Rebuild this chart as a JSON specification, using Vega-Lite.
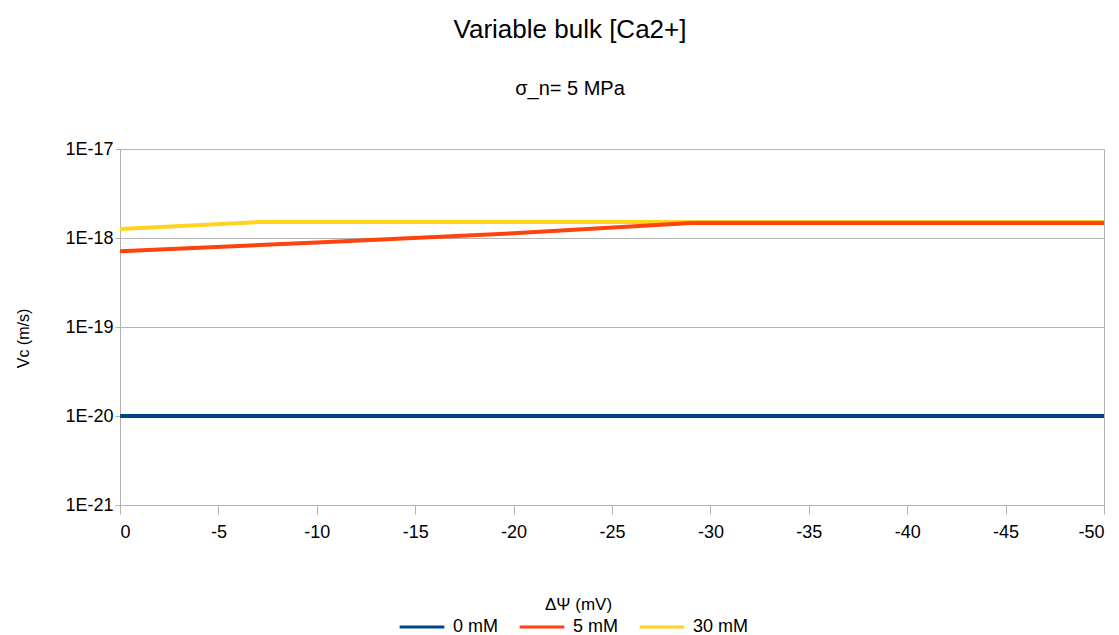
{
  "$schema": "https://vega.github.io/schema/vega-lite/v6.json",
  "autosize": "none",
  "padding": {"left": 120, "top": 149, "right": 15, "bottom": 130},
  "width": 984,
  "height": 356,
  "background": "white",
  "config": {
    "font": "Liberation Sans",
    "view": {"stroke": "#b3b3b3", "strokeWidth": 1}
  },
  "title": {
    "text": "Variable  bulk [Ca2+]",
    "subtitle": "σ_n= 5 MPa",
    "fontSize": 26,
    "fontWeight": "normal",
    "color": "#000000",
    "subtitleFontSize": 20,
    "subtitleColor": "#000000",
    "subtitlePadding": 36,
    "offset": 41,
    "anchor": "middle",
    "dx": -42
  },
  "data": {
    "values": [
      {"series": "0 mM", "dpsi": 0, "vc": 1e-20},
      {"series": "0 mM", "dpsi": -50, "vc": 1e-20},
      {"series": "30 mM", "dpsi": 0, "vc": 1.26e-18},
      {"series": "30 mM", "dpsi": -7, "vc": 1.51e-18},
      {"series": "30 mM", "dpsi": -20, "vc": 1.51e-18},
      {"series": "30 mM", "dpsi": -29, "vc": 1.51e-18},
      {"series": "30 mM", "dpsi": -50, "vc": 1.51e-18},
      {"series": "5 mM", "dpsi": 0, "vc": 7.1e-19},
      {"series": "5 mM", "dpsi": -10, "vc": 8.9e-19},
      {"series": "5 mM", "dpsi": -20, "vc": 1.13e-18},
      {"series": "5 mM", "dpsi": -29, "vc": 1.47e-18},
      {"series": "5 mM", "dpsi": -40, "vc": 1.47e-18},
      {"series": "5 mM", "dpsi": -50, "vc": 1.47e-18}
    ]
  },
  "mark": {"type": "line", "strokeWidth": 4, "strokeCap": "butt"},
  "encoding": {
    "x": {
      "field": "dpsi",
      "type": "quantitative",
      "scale": {"domain": [0, -50], "nice": false, "zero": false},
      "axis": {
        "title": "ΔΨ (mV)",
        "values": [0, -5, -10, -15, -20, -25, -30, -35, -40, -45, -50],
        "labelExpr": "'' + datum.value",
        "grid": false,
        "domainColor": "#b3b3b3",
        "tickColor": "#b3b3b3",
        "tickSize": 9,
        "labelFontSize": 18,
        "labelColor": "#000000",
        "labelPadding": 9,
        "titleFontSize": 17,
        "titleFontWeight": "normal",
        "titleColor": "#000000",
        "titleX": 458,
        "titleY": 99,
        "titleBaseline": "middle"
      }
    },
    "y": {
      "field": "vc",
      "type": "quantitative",
      "scale": {"type": "log", "domain": [1e-21, 1e-17], "nice": false},
      "axis": {
        "title": "Vc (m/s)",
        "values": [1e-21, 1e-20, 1e-19, 1e-18, 1e-17],
        "labelExpr": "'1E' + round(log(datum.value) / LN10)",
        "grid": true,
        "gridColor": "#b3b3b3",
        "domainColor": "#b3b3b3",
        "tickColor": "#b3b3b3",
        "tickSize": 5,
        "labelFontSize": 18,
        "labelColor": "#000000",
        "labelPadding": 2,
        "titleFontSize": 16,
        "titleFontWeight": "normal",
        "titleColor": "#000000",
        "titleX": -97,
        "titleY": 189,
        "titleBaseline": "middle"
      }
    },
    "color": {
      "field": "series",
      "type": "nominal",
      "sort": ["0 mM", "5 mM", "30 mM"],
      "scale": {"domain": ["0 mM", "5 mM", "30 mM"], "range": ["#004586", "#ff420e", "#ffd320"]},
      "legend": {
        "title": null,
        "orient": "none",
        "direction": "horizontal",
        "legendX": 278,
        "legendY": 454,
        "symbolType": "stroke",
        "symbolStrokeWidth": 3,
        "symbolSize": 2000,
        "labelFontSize": 18,
        "labelColor": "#000000",
        "labelOffset": 7,
        "columnPadding": 15
      }
    }
  }
}
